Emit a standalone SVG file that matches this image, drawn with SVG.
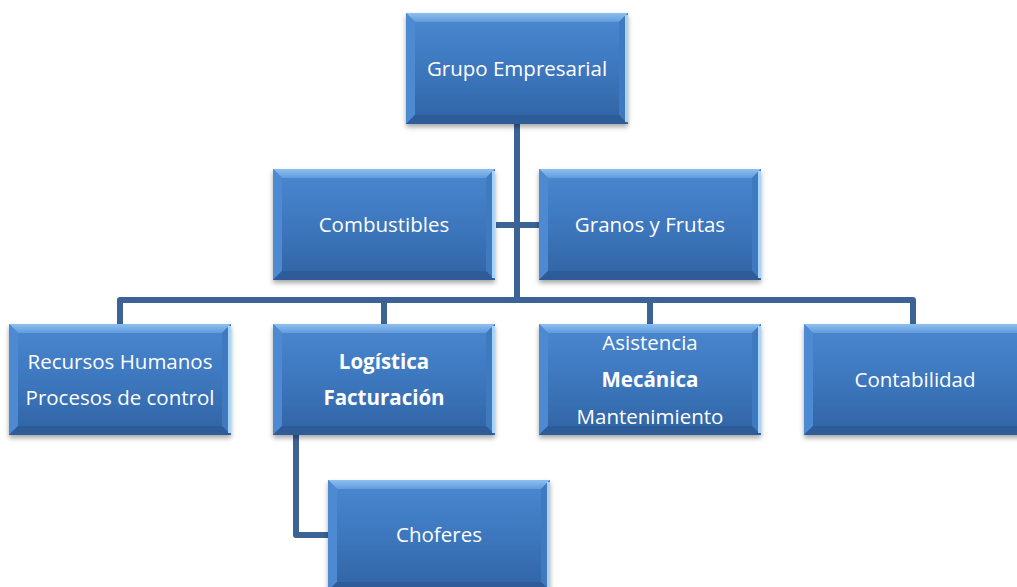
<svg xmlns="http://www.w3.org/2000/svg" xmlns:xlink="http://www.w3.org/1999/xlink" width="1017" height="587" viewBox="0 0 1017 587">
  <style>
    .t { font-family: "Open Sans", "Liberation Sans", sans-serif; font-size: 20.5px; fill: #ffffff; text-anchor: middle; }
    .b { font-weight: bold; }
    .c { fill: none; stroke: #3B6395; stroke-width: 6; stroke-linejoin: round; }
  </style>
  <defs>
    <linearGradient id="face" x1="0" y1="0" x2="0" y2="1">
      <stop offset="0" stop-color="#4A88D0"/>
      <stop offset="0.5" stop-color="#3D77BE"/>
      <stop offset="1" stop-color="#3064A4"/>
    </linearGradient>
    <linearGradient id="topb" x1="0" y1="0" x2="0" y2="1">
      <stop offset="0" stop-color="#8EBFF0"/>
      <stop offset="1" stop-color="#619BDC"/>
    </linearGradient>
    <filter id="sh" x="-10%" y="-10%" width="120%" height="130%">
      <feDropShadow dx="0" dy="3" stdDeviation="2.5" flood-color="#000" flood-opacity="0.35"/>
    </filter>
    <symbol id="box" width="222" height="111" overflow="visible">
      <g filter="url(#sh)">
        <rect x="0" y="0" width="222" height="111" fill="url(#face)"/>
      </g>
      <polygon points="0,0 222,0 213,9 9,9" fill="url(#topb)"/>
      <polygon points="0,0 9,9 9,102 0,111" fill="#4D8AD2"/>
      <polygon points="222,0 222,111 213,102 213,9" fill="#3F79BF"/>
      <polygon points="0,111 9,102 213,102 222,111" fill="#2D5C98"/>
      <rect x="219" y="2" width="3" height="107" fill="#A8D4F8"/>
    </symbol>
  </defs>
  <rect width="1017" height="587" fill="#ffffff"/>

  <g id="connectors">
    <path class="c" d="M517,123 V300"/>
    <path class="c" d="M496,225 H540"/>
    <path class="c" d="M120,324 V300 H913 V324"/>
    <path class="c" d="M384,300 V324"/>
    <path class="c" d="M650,300 V324"/>
    <path class="c" d="M296,435 V535 H329"/>
  </g>

  <g id="grupo">
    <use xlink:href="#box" x="406" y="13"/>
    <text class="t" x="517" y="76">Grupo Empresarial</text>
  </g>
  <g id="combustibles">
    <use xlink:href="#box" x="273" y="169"/>
    <text class="t" x="384" y="232">Combustibles</text>
  </g>
  <g id="granos">
    <use xlink:href="#box" x="539" y="169"/>
    <text class="t" x="650" y="232">Granos y Frutas</text>
  </g>
  <g id="recursos">
    <use xlink:href="#box" x="9" y="324"/>
    <text class="t" x="120" y="369">Recursos Humanos</text>
    <text class="t" x="120" y="405">Procesos de control</text>
  </g>
  <g id="logistica">
    <use xlink:href="#box" x="273" y="324"/>
    <text class="t b" x="384" y="369">Logística</text>
    <text class="t b" x="384" y="405">Facturación</text>
  </g>
  <g id="asistencia">
    <use xlink:href="#box" x="539" y="324"/>
    <text class="t" x="650" y="350">Asistencia</text>
    <text class="t b" x="650" y="387">Mecánica</text>
    <text class="t" x="650" y="424">Mantenimiento</text>
  </g>
  <g id="contabilidad">
    <use xlink:href="#box" x="804" y="324"/>
    <text class="t" x="915" y="387">Contabilidad</text>
  </g>
  <g id="choferes">
    <use xlink:href="#box" x="328" y="480"/>
    <text class="t" x="439" y="542">Choferes</text>
  </g>
</svg>
